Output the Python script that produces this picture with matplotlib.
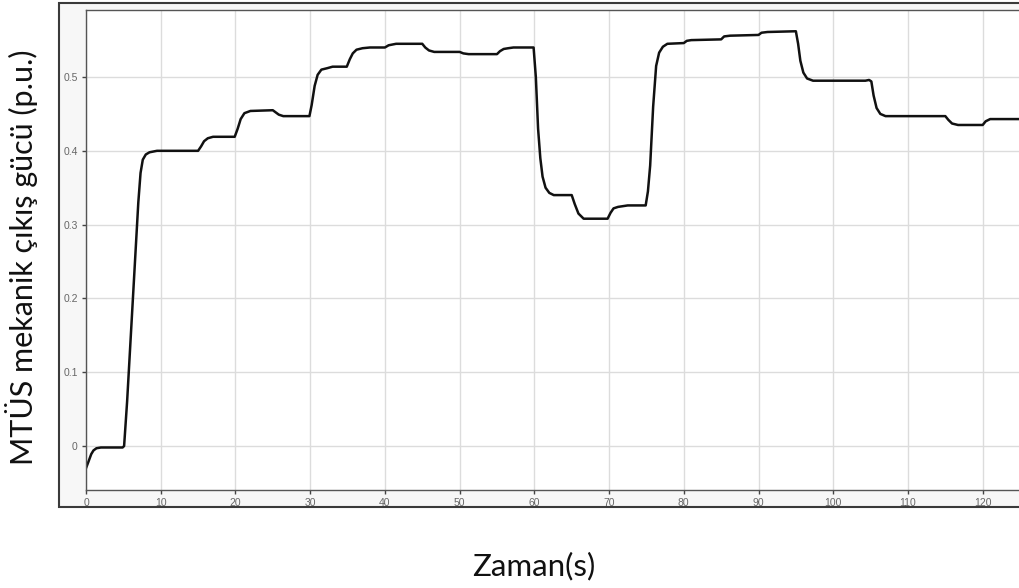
import numpy as np
import matplotlib.pyplot as plt
from matplotlib.patches import Rectangle

# time (s) and mechanical output power (p.u.)
t = [0, 0.3, 0.7, 1.0, 1.4, 2.0, 4.9, 5.1, 5.5, 6.0, 6.5, 7.0, 7.3, 7.6, 8.0, 8.5, 9.5,
     15.0, 15.4, 15.8, 16.3, 17.0, 19.9, 20.3, 20.7, 21.2, 22.0, 25.0, 25.4, 25.8, 26.4,
     29.9, 30.2, 30.6, 31.0, 31.5, 32.3, 33.0, 34.9, 35.3, 35.7, 36.2, 37.0, 38.0,
     40.0, 40.5, 41.5, 45.0, 45.4, 45.9, 46.6, 50.0, 50.5, 51.2, 55.0, 55.4, 55.9, 56.5, 57.2,
     59.9, 60.2, 60.5, 60.8, 61.1, 61.5, 62.0, 62.6, 65.0, 65.4, 65.9, 66.6,
     69.8, 70.2, 70.6, 71.2, 72.5, 74.9, 75.2, 75.5, 75.9, 76.3, 76.7, 77.2, 77.8,
     80.0, 80.4, 81.0, 85.0, 85.4, 86.2, 90.0, 90.4, 91.2, 95.0, 95.3, 95.6, 96.0, 96.5, 97.3,
     104.3, 104.8, 105.1, 105.4, 105.8, 106.3, 107.0, 115.0, 115.4, 115.9, 116.7,
     120.0, 120.4, 121.0, 127.0]
p_mech = [-0.030, -0.022, -0.011, -0.006, -0.003, -0.002, -0.002, 0.000, 0.06, 0.15, 0.24, 0.33,
          0.37, 0.388, 0.395, 0.398, 0.400,
          0.400, 0.406, 0.413, 0.417, 0.419, 0.419, 0.430, 0.443, 0.451, 0.454, 0.455, 0.452,
          0.449, 0.447,
          0.447, 0.462, 0.488, 0.503, 0.510, 0.512, 0.514, 0.514, 0.524, 0.532, 0.537, 0.539, 0.540,
          0.540, 0.543, 0.545, 0.545, 0.540, 0.536, 0.534, 0.534, 0.532, 0.531, 0.531, 0.535,
          0.538, 0.539, 0.540,
          0.540, 0.50, 0.43, 0.39, 0.365, 0.350, 0.343, 0.340, 0.340, 0.328, 0.315, 0.308,
          0.308, 0.316, 0.322, 0.324, 0.326, 0.326, 0.345, 0.38, 0.46, 0.515, 0.533, 0.541, 0.545,
          0.546, 0.549, 0.550, 0.551, 0.555, 0.556, 0.557, 0.560, 0.561, 0.562, 0.545, 0.522,
          0.506, 0.498, 0.495,
          0.495, 0.496, 0.494, 0.475, 0.458, 0.450, 0.447, 0.447, 0.442, 0.437, 0.435,
          0.435, 0.440, 0.443, 0.443]

x_ticks = list(range(0, 130, 10))
y_ticks = [0, 0.1, 0.2, 0.3, 0.4, 0.5]
y_tick_labels = ['0', '0.1', '0.2', '0.3', '0.4', '0.5']

W, H = 1020, 588
fig = plt.figure(figsize=(W / 100, H / 100), dpi=100)

# screenshot-like frame around the plot
frame = Rectangle((59.5 / W, 1 - 507 / H), (1040 - 59.5) / W, (507 - 2.5) / H,
                  transform=fig.transFigure, facecolor='#f7f7f7', edgecolor='#3a3a3a',
                  linewidth=1.5, zorder=-5)
fig.patches.append(frame)

ax = fig.add_axes([86 / W, 1 - 490 / H, (1030 - 86) / W, (490 - 10) / H])
ax.set_zorder(2)
ax.set_facecolor('white')
ax.plot(t, p_mech, color='#111111', linewidth=1.8)

ax.set_xlim(0, (1030 - 86.3) / 7.47)
ax.set_ylim(-0.0596, 0.5908)
ax.set_xticks(x_ticks)
ax.set_yticks(y_ticks)
ax.set_yticklabels(y_tick_labels)
ax.grid(True, color='#dcdcdc', linewidth=1)
ax.tick_params(direction='out', length=3, width=1, color='#444444', labelcolor='#666666',
               labelsize=7.5, pad=3)
for lab in ax.get_xticklabels() + ax.get_yticklabels():
    lab.set_fontfamily('Liberation Sans')
for s in ax.spines.values():
    s.set_color('#555555')
    s.set_linewidth(1)

fig.text(22 / W, 1 - 257 / H, 'MTÜS mekanik çıkış gücü (p.u.)', rotation=90,
         ha='center', va='center', fontsize=22, family='Lato', color='#111111')
fig.text(534 / W, 1 - 566 / H, 'Zaman(s)', ha='center', va='center',
         fontsize=22.5, family='Lato', color='#111111')

fig.savefig('out.png', dpi=100)
